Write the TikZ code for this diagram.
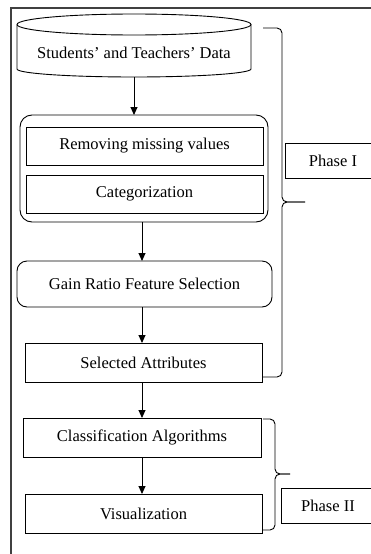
\documentclass[tikz,border=0pt]{standalone}
\usepackage{fontspec}
\setmainfont{Liberation Serif}
\usetikzlibrary{arrows.meta}
\tikzset{
  box/.style={draw, line width=0.9pt, inner sep=0pt, outer sep=0pt, font=\fontsize{16.5pt}{19pt}\selectfont, align=center},
  rbox/.style={box, rounded corners=10pt},
  arr/.style={line width=0.9pt, -{Triangle[length=8pt,width=7pt]}},
  brc/.style={line width=0.9pt, rounded corners=5pt},
  lbl/.style={font=\fontsize{16.5pt}{19pt}\selectfont, inner sep=0pt}
}
\begin{document}
\begin{tikzpicture}[x=1pt,y=-1pt]
\clip (0,0) rectangle (371,554);
% outer frame (partially visible)
\draw[line width=1.2pt, black!75] (11,570) -- (11,8) -- (390,8);
% cylinder
\draw[line width=0.9pt] (17,24.5) arc[start angle=180, end angle=360, x radius=117, y radius=10.5]
  arc[start angle=0, end angle=180, x radius=117, y radius=10.5];
\draw[line width=0.9pt] (17,24.5) -- (17,69) arc[start angle=180, end angle=0, x radius=117, y radius=8] -- (251,24.5);
\node[lbl] (data) at (134,53) {Students’ and Teachers’ Data};
\coordinate (dataBot) at (134,77);
% container and inner boxes
\node[rbox, rounded corners=12pt, minimum width=248pt, minimum height=107pt] (cont) at (144,168.5) {};
\node[box, minimum width=237pt, minimum height=38pt] (rm) at (144.5,146) {Removing missing values};
\node[box, minimum width=237pt, minimum height=38pt] (cat) at (144.5,194) {Categorization};
\node[rbox, minimum width=255pt, minimum height=46pt] (gain) at (144.5,284) {Gain Ratio Feature Selection};
\node[box, minimum width=237pt, minimum height=39pt] (sel) at (143.5,362.5) {Selected Attributes};
\node[box, minimum width=238pt, minimum height=39pt] (cls) at (142,437.5) {Classification Algorithms};
\node[box, minimum width=237pt, minimum height=39pt] (vis) at (143.5,513.5) {Visualization};
\node[box, minimum width=96pt, minimum height=35pt] (p1) at (333,160.5) {Phase I};
\node[box, minimum width=94pt, minimum height=35pt] (p2) at (328,505.5) {Phase II};
% arrows
\coordinate (ax) at (142,0);
\draw[arr] (dataBot) -- (cont.north -| dataBot);
\draw[arr] (cont.south -| ax) -- (gain.north -| ax);
\draw[arr] (gain.south -| ax) -- (sel.north -| ax);
\draw[arr] (sel.south -| ax) -- (cls.north -| ax);
\draw[arr] (cls.south -| ax) -- (vis.north -| ax);
% brace phase I
\draw[brc] (263,28) -- (282,28) -- (282,202) -- (305,202);
\draw[brc] (262,377) -- (282,377) -- (282,202) -- (305,202);
% brace phase II
\draw[brc] (263,419) -- (275,419) -- (275,474) -- (290,474);
\draw[brc] (263,530) -- (275,530) -- (275,474) -- (290,474);
\end{tikzpicture}
\end{document}
